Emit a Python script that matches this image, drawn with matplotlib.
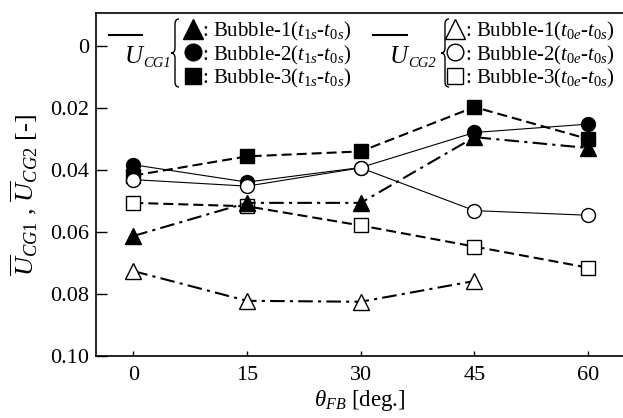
import matplotlib
matplotlib.use("Agg")
import matplotlib.pyplot as plt
from matplotlib.lines import Line2D
from matplotlib.path import Path
from matplotlib.patches import PathPatch

plt.rcParams['font.family'] = ['Liberation Serif', 'DejaVu Serif']
plt.rcParams['mathtext.fontset'] = 'custom'
plt.rcParams['mathtext.rm'] = 'Liberation Serif'
plt.rcParams['mathtext.it'] = 'Liberation Serif:italic'
plt.rcParams['mathtext.bf'] = 'Liberation Serif:bold'

# ---------------- data ----------------
theta = [0, 15, 30, 45, 60]
theta_b1_open = [0, 15, 30, 45]
b1_t1s = [0.0613, 0.0506, 0.0506, 0.0294, 0.0329]
b2_t1s = [0.0383, 0.0439, 0.0392, 0.0279, 0.0252]
b3_t1s = [0.0418, 0.0356, 0.0340, 0.0197, 0.0300]
b1_t0e = [0.0726, 0.0822, 0.0825, 0.0758]
b2_t0e = [0.0431, 0.0452, 0.0393, 0.0531, 0.0546]
b3_t0e = [0.0506, 0.0517, 0.0579, 0.0647, 0.0715]
xticks = [0, 15, 30, 45, 60]
yticks = [0, 0.02, 0.04, 0.06, 0.08, 0.10]
ytick_labels = ['0', '0.02', '0.04', '0.06', '0.08', '0.10']

W, H = 623, 418
fig = plt.figure(figsize=(W / 100, H / 100), dpi=100)

def fx(x):
    return x / W

def fy(y):
    return 1 - y / H

ax_l, ax_r, ax_t, ax_b = 95.7, 623, 13, 356
ax = fig.add_axes([fx(ax_l), fy(ax_b), (ax_r - ax_l) / W, (ax_b - ax_t) / H])

dash = (0, (4.8, 2.4))
dashdot = (0, (7, 2.5, 1.5, 2.5))
k = 'black'

ax.plot(theta, b3_t0e, linestyle=dash, color=k, lw=1.5, marker='s', ms=9.5,
        mfc='white', mec=k, mew=1.0, zorder=3)
ax.plot(theta, b1_t1s, linestyle=dashdot, color=k, lw=1.5, marker='^', ms=12,
        mfc=k, mec=k, mew=1.0, zorder=4)
ax.plot(theta, b3_t1s, linestyle=dash, color=k, lw=1.5, marker='s', ms=9.5,
        mfc=k, mec=k, mew=1.0, zorder=4)
ax.plot(theta, b2_t1s, linestyle='-', color=k, lw=0.8, marker='o', ms=10,
        mfc=k, mec=k, mew=1.0, zorder=4)
ax.plot(theta_b1_open, b1_t0e, linestyle=dashdot, color=k, lw=1.5, marker='^', ms=12,
        mfc='white', mec=k, mew=1.0, zorder=5)
ax.plot(theta, b2_t0e, linestyle='-', color=k, lw=0.8, marker='o', ms=10,
        mfc='white', mec=k, mew=1.0, zorder=5)

ax.set_xlim(-4.96, 64.6)
ax.set_ylim(0.10, -0.01065)
ax.set_xticks(xticks)
ax.set_xticklabels([str(v) for v in xticks])
ax.set_yticks(yticks)
ax.set_yticklabels(ytick_labels)
ax.tick_params(axis='x', direction='in', length=3.6, width=1.0, labelsize=16, pad=7)
ax.tick_params(axis='y', direction='in', length=8, width=1.0, labelsize=16, pad=5)
ax.spines['right'].set_visible(False)
for s in ['left', 'bottom', 'top']:
    ax.spines[s].set_linewidth(1.2)

# axis labels
fig.text(fx(360), fy(406), r'$\theta_{\mathit{FB}}$ [deg.]', ha='center', va='baseline',
         fontsize=16.5)
fig.text(fx(24), fy(195), r'$\overline{U}_{\mathit{CG1}}$ , $\overline{U}_{\mathit{CG2}}$ [-]',
         rotation=90, ha='center', va='center', fontsize=19)

# ---------------- legend (drawn manually) ----------------
def brace(x_left, x_right, y_top, y_bot):
    xm = (x_left + x_right) / 2
    yc = (y_top + y_bot) / 2
    r = 5
    pts = [
        (x_right, y_top),
        (xm, y_top), (xm, y_top + r),
        (xm, yc - r),
        (xm, yc), (x_left, yc),
        (xm, yc), (xm, yc + r),
        (xm, y_bot - r),
        (xm, y_bot), (x_right, y_bot),
    ]
    codes = [Path.MOVETO, Path.CURVE3, Path.CURVE3, Path.LINETO,
             Path.CURVE3, Path.CURVE3, Path.CURVE3, Path.CURVE3,
             Path.LINETO, Path.CURVE3, Path.CURVE3]
    verts = [(fx(a), fy(b)) for a, b in pts]
    p = PathPatch(Path(verts, codes), transform=fig.transFigure, fill=False,
                  lw=1.0, edgecolor=k)
    fig.add_artist(p)

def legend_group(bar_x0, bar_x1, u_x, cg, bx0, bx1, mx, tx, filled, subs):
    fig.add_artist(Line2D([fx(bar_x0), fx(bar_x1)], [fy(34.5), fy(34.5)],
                          transform=fig.transFigure, color=k, lw=1.5))
    fig.text(fx(u_x), fy(63), 'U', fontsize=18, style='italic',
             va='baseline', ha='left')
    fig.text(fx(u_x + 18), fy(67), cg, fontsize=10.5, style='italic',
             va='baseline', ha='left')
    brace(bx0, bx1, 19, 87)
    markers = [('^', 14, 29), ('o', 12, 52), ('s', 11, 76)]
    baselines = [36, 60, 83]
    for i, ((m, ms, my), bl) in enumerate(zip(markers, baselines)):
        fig.add_artist(Line2D([fx(mx)], [fy(my)], transform=fig.transFigure,
                              marker=m, ms=ms, mfc=k if filled else 'white',
                              mec=k, mew=1.0, linestyle='none'))
        fig.text(fx(tx), fy(bl),
                 r': Bubble-%d($t_{\mathit{%s}}$-$t_{\mathit{0s}}$)' % (i + 1, subs),
                 fontsize=15, va='baseline', ha='left')

legend_group(109, 142, 125, 'CG1', 171, 179, 193, 202, True, '1s')
legend_group(373, 407, 390, 'CG2', 441, 449, 455, 465, False, '0e')

fig.savefig('out.png', dpi=100)
